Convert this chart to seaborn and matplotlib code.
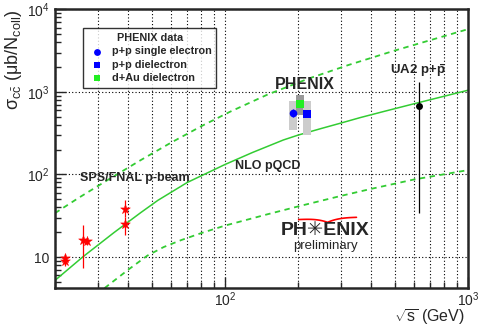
import matplotlib
matplotlib.use("Agg")
import matplotlib.pyplot as plt
import matplotlib.ticker as mticker
import numpy as np
import pandas as pd
import seaborn as sns

# NLO pQCD band
nlo_x = [20, 26, 35, 45, 53, 70, 100, 130, 174, 200, 250, 300, 361, 450, 600, 800, 1000]
nlo_y = [5.2, 10, 19.8, 34.4, 48.6, 80, 132, 185, 262, 300, 362, 420, 490, 580, 720, 890, 1050]
nlo_hi_x = [20, 25, 33, 45, 60, 80, 105, 150, 220, 322, 500, 1000]
nlo_hi_y = [34, 52, 86, 149, 243, 385, 576, 932, 1447, 2121, 3180, 5770]
nlo_lo_x = [32, 40, 48, 56, 66, 80, 100, 150, 200, 300, 400, 600, 1000]
nlo_lo_y = [4.2, 7.0, 10.4, 13.2, 16.0, 19.5, 24, 33, 41, 55, 67, 87, 113]

# SPS/FNAL p-beam
sps_x = [22, 22, 26, 27.1, 39, 39]
sps_y = [9.8, 9.0, 15.9, 15.5, 38.6, 24.9]
sps_err_lo = [1.2, 1.3, 8.5, 1.5, 8.0, 6.6]
sps_err_hi = [1.0, 0.8, 8.8, 1.5, 11.0, 6.0]

# PHENIX (x offsets around 200 GeV for visibility)
phx_labels = ["p+p single electron", "d+Au dielectron", "p+p dielectron"]
phx_x = [190, 203, 218]
phx_y = [563, 725, 547]
phx_err = [60, 40, 50]
phx_sys_lo = [344, 521, 299]
phx_sys_hi = [778, 913, 778]

# UA2 p+pbar
ua2_x = [630]
ua2_y = [676]
ua2_err_lo = [642]
ua2_err_hi = [644]

sns.set_style("ticks")
plt.rcParams["font.family"] = ["Liberation Sans", "DejaVu Sans"]
plt.rcParams["mathtext.fontset"] = "custom"
plt.rcParams["mathtext.rm"] = "Liberation Sans"
plt.rcParams["mathtext.it"] = "Liberation Sans"
plt.rcParams["mathtext.bf"] = "Liberation Sans:bold"

fig = plt.figure(figsize=(4.78, 3.27), dpi=100)
ax = fig.add_axes([0.115, 0.119, 0.864, 0.852])

green = "#33cc33"
dash = (0, (3, 2.5))
sns.lineplot(data=pd.DataFrame({"x": nlo_x, "y": nlo_y}), x="x", y="y",
             ax=ax, color=green, lw=1.1)
sns.lineplot(data=pd.DataFrame({"x": nlo_hi_x, "y": nlo_hi_y}), x="x", y="y",
             ax=ax, color=green, lw=1.3, linestyle=dash)
sns.lineplot(data=pd.DataFrame({"x": nlo_lo_x, "y": nlo_lo_y}), x="x", y="y",
             ax=ax, color=green, lw=1.3, linestyle=dash)

# SPS points
ax.errorbar(sps_x, sps_y, yerr=[sps_err_lo, sps_err_hi], fmt="none",
            ecolor="red", elinewidth=0.9, capsize=0)
sns.scatterplot(x=sps_x, y=sps_y, ax=ax, marker="*", color="red", s=55,
                edgecolor="red", linewidth=0.3, zorder=4)

# PHENIX systematic boxes
half_w = 0.016
box_cols = ["#cccccc", "#999999", "#cccccc"]
for xc, lo, hi, c in zip(phx_x, phx_sys_lo, phx_sys_hi, box_cols):
    ax.fill_between([xc * 10 ** -half_w, xc * 10 ** half_w], lo, hi,
                    color=c, lw=0, zorder=2)

phx_colors = ["blue", "#22ee22", "blue"]
phx_markers = ["o", "s", "s"]
for xc, yc, e, c in zip(phx_x, phx_y, phx_err, phx_colors):
    ax.errorbar([xc], [yc], yerr=[e], fmt="none", ecolor=c, elinewidth=1.0)
for i in [0, 2, 1]:
    sns.scatterplot(x=[phx_x[i]], y=[phx_y[i]], ax=ax, marker=phx_markers[i],
                    color=phx_colors[i], s=30, linewidth=0, zorder=5,
                    label=phx_labels[i])

# UA2
ax.errorbar(ua2_x, ua2_y, yerr=[ua2_err_lo, ua2_err_hi], fmt="none",
            ecolor="black", elinewidth=0.9)
sns.scatterplot(x=ua2_x, y=ua2_y, ax=ax, marker="o", color="black", s=25,
                linewidth=0, zorder=5)

ax.set_xscale("log")
ax.set_yscale("log")
ax.set_xlim(20, 1000)
ax.set_ylim(4.2, 10000)

def log_fmt(v, pos):
    e = int(round(np.log10(v)))
    return "10" if e == 1 else r"$10^{%d}$" % e

ax.xaxis.set_major_formatter(mticker.FuncFormatter(log_fmt))
ax.yaxis.set_major_formatter(mticker.FuncFormatter(log_fmt))
ax.xaxis.set_minor_formatter(mticker.NullFormatter())
ax.yaxis.set_minor_formatter(mticker.NullFormatter())
ax.tick_params(which="both", direction="in", width=1.0, labelsize=10, pad=4)
ax.tick_params(axis="x", which="major", pad=2)
ax.tick_params(which="major", length=8)
ax.tick_params(which="minor", length=4)
ax.grid(which="major", axis="both", color="black", linestyle=(0, (1, 2)), lw=0.8)
ax.grid(which="minor", axis="x", color="black", linestyle=(0, (1, 2)), lw=0.8)
ax.set_axisbelow(True)
for s in ax.spines.values():
    s.set_linewidth(1.8)
    s.set_visible(True)

ax.set_xlabel("")
fig.text(0.972, 0.0, r"$\sqrt{\mathrm{s}}$ (GeV)", ha="right", va="bottom",
         fontsize=11.5)
ax.set_ylabel("\u03c3$_{c\\bar{c}}$ (\u03bcb/N$_{coll}$)", loc="top",
              fontsize=13, labelpad=2)

leg = ax.legend(loc="upper left", bbox_to_anchor=(0.055, 0.952), title="PHENIX data",
                prop={"weight": "bold", "size": 7.8}, frameon=True,
                fancybox=False, edgecolor="black", handletextpad=0.6,
                borderpad=0.45, labelspacing=0.3, handlelength=1.6,
                markerscale=0.9)
leg.get_title().set_fontweight("bold")
leg.get_title().set_fontsize(7.8)
leg.get_frame().set_linewidth(1.0)

ax.text(0.605, 0.73, "PHENIX", transform=ax.transAxes, ha="center", va="center",
        fontsize=11.5, fontweight="bold")
ax.text(0.879, 0.779, r"UA2 p+$\mathbf{\bar{p}}$", transform=ax.transAxes,
        ha="center", va="center", fontsize=9.5, fontweight="bold")
ax.text(0.194, 0.395, "SPS/FNAL p-beam", transform=ax.transAxes, ha="center",
        va="center", fontsize=9, fontweight="bold")
ax.text(0.516, 0.438, "NLO pQCD", transform=ax.transAxes, ha="center",
        va="center", fontsize=9, fontweight="bold")

# PHENIX preliminary logo
ax.text(0.654, 0.205, "PH\u2733ENIX", transform=ax.transAxes, ha="center",
        va="center", fontsize=14, fontweight="bold")
ax.text(0.654, 0.152, "preliminary", transform=ax.transAxes, ha="center",
        va="center", fontsize=9.5)
sw = np.linspace(-1, 1, 41)
ax.plot(0.66 + 0.07 * sw, 0.25 - 0.014 * (1 - np.abs(sw)) ** 3 + 0.004 * sw,
        transform=ax.transAxes, color="red", lw=1.2)

fig.savefig("out.png", dpi=100)
